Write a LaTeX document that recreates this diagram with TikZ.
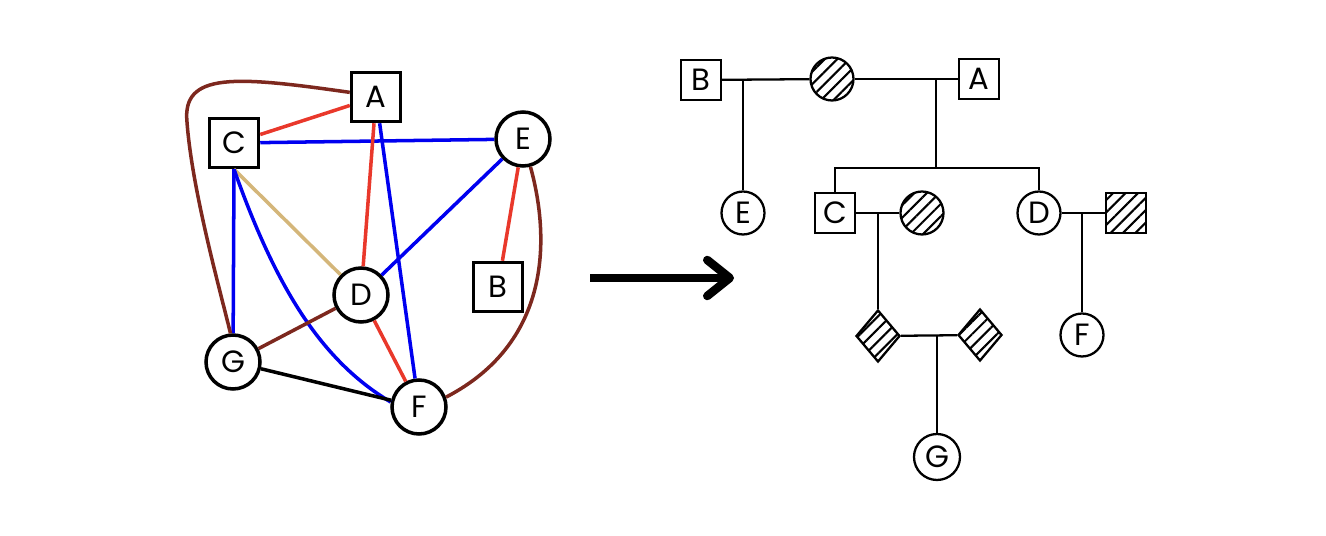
\documentclass[tikz,border=0pt]{standalone}
\usepackage{fontspec}
\setmainfont{Poppins}
\usepackage{tikz}
\usetikzlibrary{arrows.meta}
\usetikzlibrary{patterns.meta}
\usetikzlibrary{shapes.geometric}
\definecolor{edge-red}{RGB}{233,56,43}
\definecolor{edge-blue}{RGB}{0,0,240}
\definecolor{edge-brown}{RGB}{125,40,30}
\definecolor{edge-tan}{RGB}{212,182,122}

\begin{document}
\begin{tikzpicture}[x=0.02cm, y=-0.02cm, font=\fontsize{17.5}{20}\selectfont,
    gbox/.style={draw, line width=2pt, fill=white, minimum size=0.98cm, inner sep=0pt},
    gcirc/.style={draw, circle, line width=2pt, fill=white, minimum size=1.08cm, inner sep=0pt},
    gedge/.style={line width=2pt},
    pbox/.style={draw, line width=1.3pt, minimum size=0.8cm, inner sep=0pt},
    pcirc/.style={draw, circle, line width=1.3pt, minimum size=0.86cm, inner sep=0pt},
    pdiam/.style={draw, diamond, line width=1.3pt, minimum width=0.88cm, minimum height=1.04cm, inner sep=0pt},
    hatch/.style={pattern={Lines[angle=45, distance=5pt, line width=1.2pt]}},
    pline/.style={line width=1.3pt}]
    \useasboundingbox (0,0) rectangle (1326,536);

    % graph
    \node[gbox ] (a) at (376, 97) {A};
    \node[gbox ] (c) at (234,143) {C};
    \node[gcirc] (e) at (523,139) {E};
    \node[gbox ] (b) at (498,287) {B};
    \node[gcirc] (d) at (361,295) {D};
    \node[gcirc] (g) at (233,362) {G};
    \node[gcirc] (f) at (419,407) {F};

    \draw[gedge, edge-red  ] (c) -- (a);
    \draw[gedge, edge-blue ] (c) -- (e);
    \draw[gedge, edge-red  ] (a) -- (d);
    \draw[gedge, edge-blue ] (a) -- (f);
    \draw[gedge, edge-blue ] (e) -- (d);
    \draw[gedge, edge-red  ] (e) -- (b);
    \draw[gedge, edge-tan  ] (c.south) -- (d);
    \draw[gedge, edge-blue ] (c.south) -- (g);
    \draw[gedge, edge-blue ] (c.south) .. controls (275,285) and (320,360) .. (f.170);
    \draw[gedge, edge-brown] (g) -- (d);
    \draw[gedge, edge-red  ] (d) -- (f);
    \draw[gedge, black     ] (g) -- (f);
    \draw[gedge, edge-brown] (a.170) .. controls (235,76) and (182,72) .. (187,122)
                                     .. controls (192,190) and (220,290) .. (g.95);
    \draw[gedge, edge-brown] (e.285) .. controls (548,230) and (556,340) .. (f.20);

    % arrow
    \coordinate (arrs) at (590,278);
    \coordinate (arre) at (734,278);
    \draw[line width=0.17cm, -{Straight Barb[length=0.45cm, width=0.72cm, round]}] (arrs) -- (arre);

    % pedigree
    \node[pbox        ] (pb)  at ( 701, 80) {B};
    \node[pcirc, hatch] (pw1) at ( 832, 79) {};
    \node[pbox        ] (pa)  at ( 979, 79) {A};
    \node[pcirc       ] (pe)  at ( 743,213) {E};
    \node[pbox        ] (pc)  at ( 835,213) {C};
    \node[pcirc, hatch] (pw2) at ( 922,213) {};
    \node[pcirc       ] (pd)  at (1039,213) {D};
    \node[pbox,  hatch] (ph)  at (1126,213) {};
    \node[pdiam, hatch] (pk1) at ( 878,336) {};
    \node[pdiam, hatch] (pk2) at ( 980,335) {};
    \node[pcirc, minimum size=0.92cm] (pg) at (937,457) {G};
    \node[pcirc       ] (pf)  at (1082,335) {F};

    \coordinate (j1) at ( 743, 80);
    \coordinate (j2) at ( 936, 79);
    \coordinate (s1) at ( 936,168);
    \coordinate (j3) at ( 878,213);
    \coordinate (j4) at ( 937,335);
    \coordinate (j5) at (1082,213);

    \draw[pline] (pb) -- (pw1);
    \draw[pline] (pw1) -- (pa);
    \draw[pline] (j1) -- (pe);
    \draw[pline] (j2) -- (s1);
    \draw[pline] (pc) |- (s1) -| (pd);
    \draw[pline] (pc) -- (pw2);
    \draw[pline] (j3) -- (pk1);
    \draw[pline] (pk1) -- (pk2);
    \draw[pline] (j4) -- (pg);
    \draw[pline] (pd) -- (ph);
    \draw[pline] (j5) -- (pf);
\end{tikzpicture}
\end{document}
